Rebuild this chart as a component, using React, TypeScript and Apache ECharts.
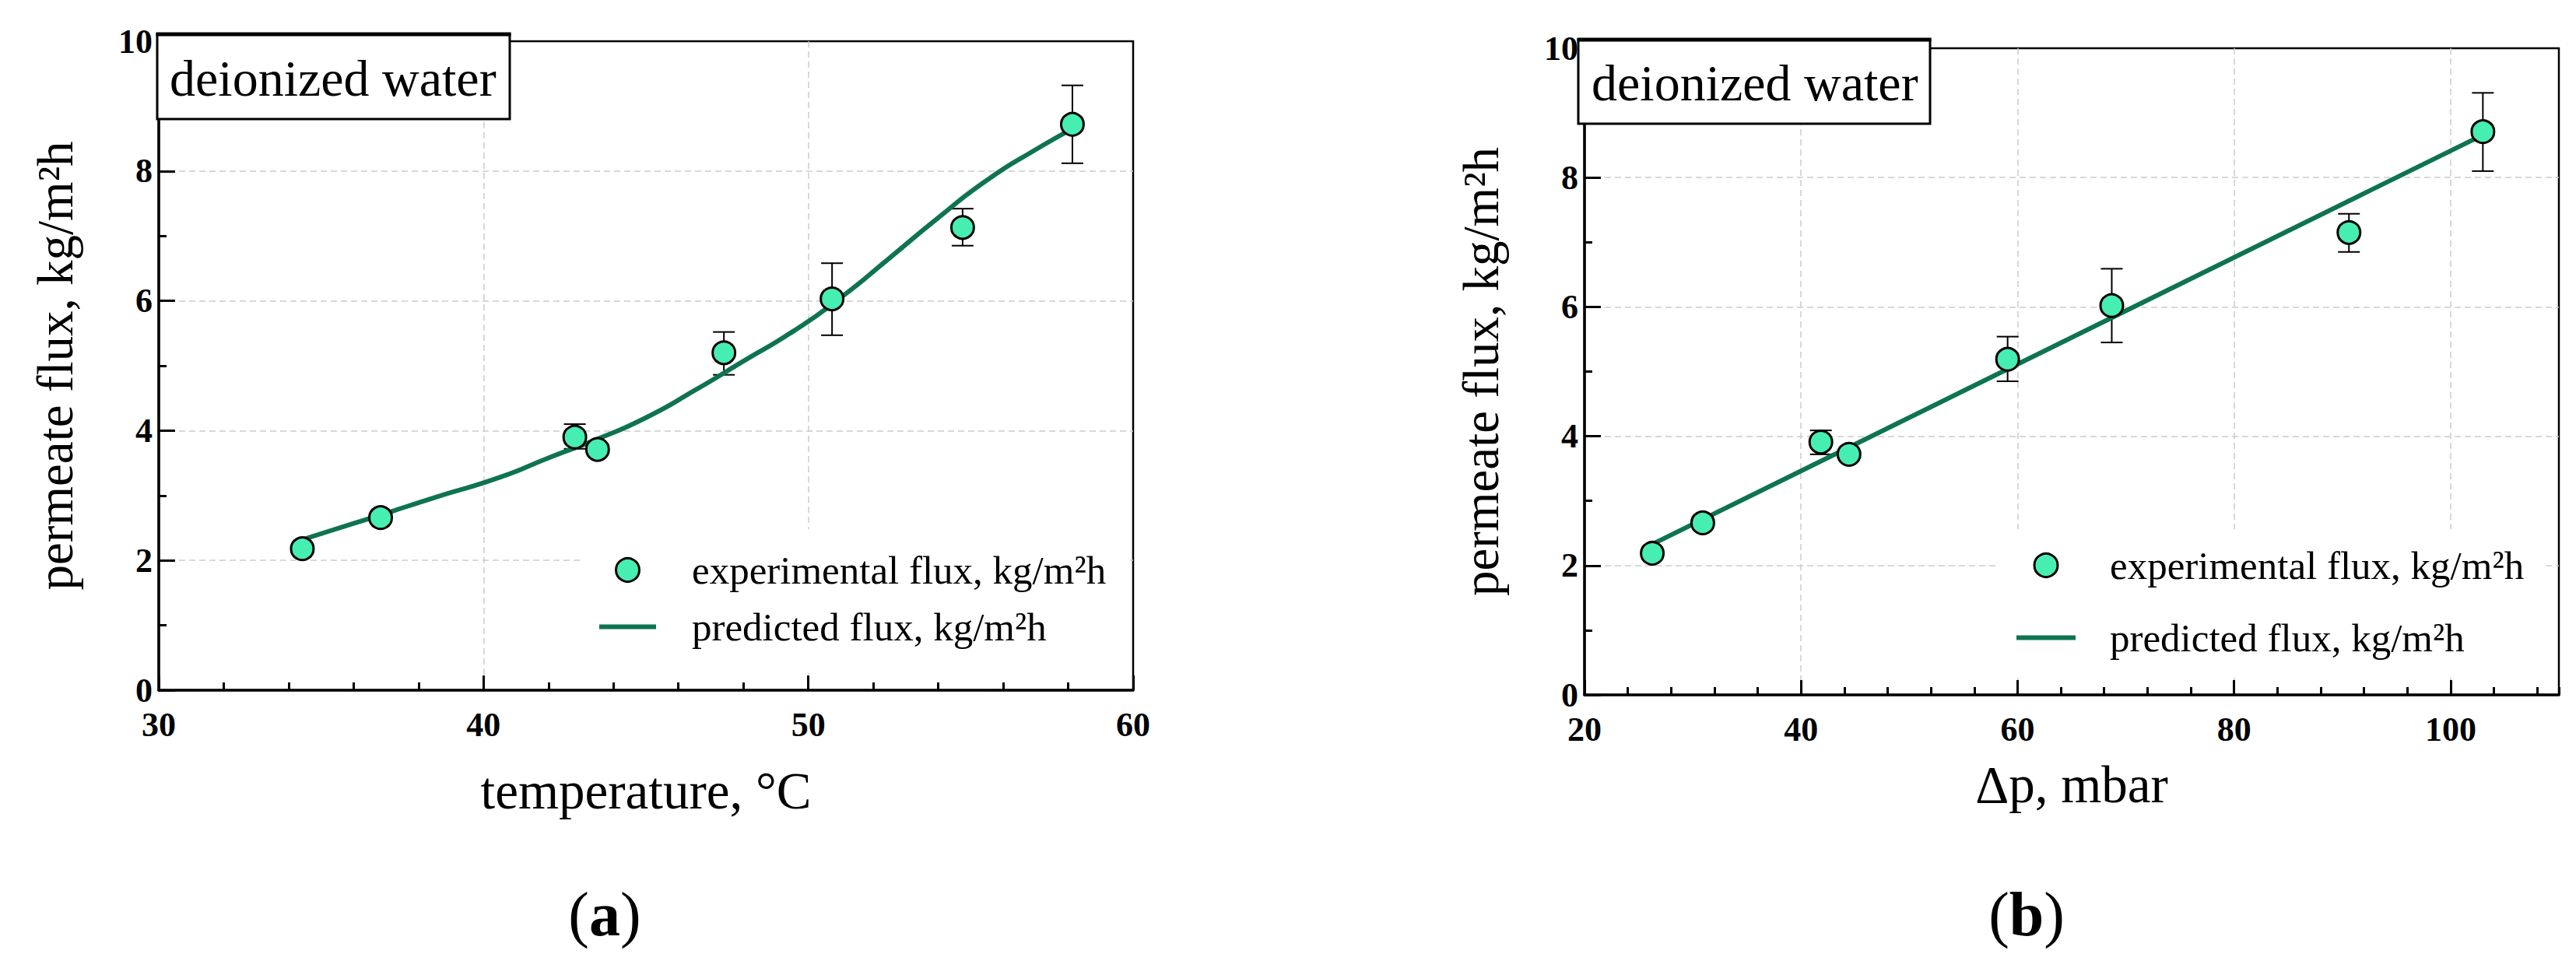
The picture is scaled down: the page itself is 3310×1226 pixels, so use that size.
import React, { useEffect, useRef } from "react";
import * as echarts from "echarts";

// ---------- data (a): temperature ----------
const tempC = [34.42, 36.83, 42.81, 43.51, 47.4, 50.73, 54.75, 58.13];
const fluxA = [2.18, 2.66, 3.9, 3.71, 5.2, 6.03, 7.13, 8.72];
const errLowA = [2.18, 2.66, 3.72, 3.71, 4.86, 5.47, 6.85, 8.12];
const errHighA = [2.18, 2.66, 4.1, 3.71, 5.52, 6.58, 7.42, 9.32];
const curveT = [34.42, 36.0, 36.83, 38.5, 40.5, 42.0, 43.5, 45.0, 46.5, 48.0, 49.5, 51.0, 52.5, 54.0, 55.5, 57.0, 58.13];
const curveA = [2.32, 2.57, 2.7, 2.97, 3.28, 3.58, 3.87, 4.2, 4.62, 5.07, 5.52, 6.05, 6.66, 7.28, 7.86, 8.33, 8.65];

// ---------- data (b): pressure difference ----------
const dpMbar = [26.26, 30.92, 41.83, 44.43, 59.08, 68.7, 90.61, 102.98];
const fluxB = [2.19, 2.66, 3.91, 3.72, 5.19, 6.02, 7.15, 8.71];
const errLowB = [2.19, 2.66, 3.72, 3.72, 4.85, 5.45, 6.85, 8.1];
const errHighB = [2.19, 2.66, 4.09, 3.72, 5.54, 6.59, 7.44, 9.31];
const lineDp = [26.26, 102.98];
const lineB = [2.33, 8.66];

// ---------- texts ----------
const EXP = "experimental flux, kg/m²h";
const PRED = "predicted flux, kg/m²h";
const Y_NAME = "permeate flux, kg/m²h";
const X_NAME_A = "temperature, °C";
const X_NAME_B = "Δp, mbar";
const BOX_TEXT = "deionized water";

const FONT = "'Liberation Serif', 'Times New Roman', serif";
const MINT = "#46EEB2";
const GREEN = "#0E7352";

const errorBarSeries = (xi: number, xs: number[], lo: number[], hi: number[]) => ({
  type: "custom",
  xAxisIndex: xi,
  yAxisIndex: xi,
  silent: true,
  z: 3,
  clip: false,
  data: xs.map((x, i) => [x, lo[i], hi[i]]),
  renderItem: (params: any, api: any) => {
    const x = api.value(0);
    const pLo = api.coord([x, api.value(1)]);
    const pHi = api.coord([x, api.value(2)]);
    const cap = 14;
    const style = { stroke: "#000", lineWidth: 2 };
    return {
      type: "group",
      children: [
        { type: "line", shape: { x1: pHi[0], y1: pHi[1], x2: pLo[0], y2: pLo[1] }, style },
        { type: "line", shape: { x1: pHi[0] - cap, y1: pHi[1], x2: pHi[0] + cap, y2: pHi[1] }, style },
        { type: "line", shape: { x1: pLo[0] - cap, y1: pLo[1], x2: pLo[0] + cap, y2: pLo[1] }, style },
      ],
    };
  },
});

const tickLabel = { fontFamily: FONT, fontWeight: "bold" as const, fontSize: 44, color: "#000" };
const splitLine = {
  show: true,
  showMinLine: false,
  showMaxLine: false,
  lineStyle: { color: "#cccccc", width: 1.5, type: [8, 5] },
};
const axisLine = { show: true, lineStyle: { color: "#000", width: 3.5 } };
const nameStyle = { fontFamily: FONT, fontSize: 67, color: "#000" };

const yAxisFor = (gi: number) => ({
  type: "value",
  gridIndex: gi,
  min: 0,
  max: 10,
  interval: 2,
  name: Y_NAME,
  nameLocation: "middle",
  nameGap: 101,
  nameTextStyle: { ...nameStyle, fontSize: 65 },
  axisLine,
  axisTick: { show: true, inside: true, length: 21, lineStyle: { color: "#000", width: 3 } },
  minorTick: { show: true, splitNumber: 2, length: 10, lineStyle: { color: "#000", width: 3 } },
  axisLabel: { ...tickLabel, margin: 8 },
  splitLine,
});

const legendFor = (
  left: number,
  top: number,
  padding: number[],
  itemWidth: number,
  itemGap: number,
  textPad: number
) => ({
  orient: "vertical",
  left,
  top,
  padding,
  itemWidth,
  itemHeight: 30,
  itemGap,
  selectedMode: false,
  backgroundColor: "#fff",
  textStyle: { fontFamily: FONT, fontSize: 51, color: "#000", padding: [0, 0, 0, textPad] },
  data: [
    { name: EXP, icon: "circle", itemStyle: { color: MINT, borderColor: "#000", borderWidth: 3 } },
    { name: PRED, icon: `path://M0,0L${itemWidth},0L${itemWidth},6L0,6Z`, itemStyle: { color: GREEN, borderWidth: 0 } },
  ],
});

const option: any = {
  animation: false,
  backgroundColor: "#fff",
  grid: [
    { left: 204, top: 53, width: 1252, height: 834, show: true, borderColor: "#000", borderWidth: 2.5 },
    { left: 2036, top: 62, width: 1252, height: 831, show: true, borderColor: "#000", borderWidth: 2.5 },
  ],
  xAxis: [
    {
      type: "value",
      gridIndex: 0,
      position: "bottom",
      min: 30,
      max: 60,
      interval: 10,
      name: X_NAME_A,
      nameLocation: "middle",
      nameGap: 95,
      nameTextStyle: nameStyle,
      axisLine,
      axisTick: { show: true, inside: true, length: 19, lineStyle: { color: "#000", width: 3 } },
      minorTick: { show: true, splitNumber: 5, length: 10, lineStyle: { color: "#000", width: 3 } },
      axisLabel: { ...tickLabel, margin: 22 },
      splitLine,
    },
    {
      type: "value",
      gridIndex: 1,
      position: "bottom",
      min: 20,
      max: 110,
      interval: 20,
      name: X_NAME_B,
      nameLocation: "middle",
      nameGap: 81,
      nameTextStyle: nameStyle,
      axisLine,
      axisTick: { show: true, inside: true, length: 19, lineStyle: { color: "#000", width: 3 } },
      axisLabel: { ...tickLabel, margin: 22, showMaxLabel: false },
      splitLine,
    },
    {
      type: "value",
      gridIndex: 1,
      position: "bottom",
      min: 20,
      max: 110,
      interval: 4,
      axisLine: { show: false },
      axisLabel: { show: false },
      splitLine: { show: false },
      axisTick: { show: true, inside: true, length: 10, lineStyle: { color: "#000", width: 3 } },
    },
  ],
  yAxis: [yAxisFor(0), yAxisFor(1)],
  legend: [
    legendFor(746, 680, [27, 28, 34, 24], 73, 22, 41),
    legendFor(2565, 680, [21, 28, 26, 26], 76, 42, 39),
  ],
  series: [
    errorBarSeries(0, tempC, errLowA, errHighA),
    {
      type: "line",
      name: PRED,
      xAxisIndex: 0,
      yAxisIndex: 0,
      data: curveT.map((x, i) => [x, curveA[i]]),
      smooth: 0.6,
      symbol: "none",
      itemStyle: { color: GREEN },
      lineStyle: { color: GREEN, width: 6 },
      z: 4,
    },
    {
      type: "scatter",
      name: EXP,
      xAxisIndex: 0,
      yAxisIndex: 0,
      data: tempC.map((x, i) => [x, fluxA[i]]),
      symbolSize: 29,
      itemStyle: { color: MINT, borderColor: "#000", borderWidth: 3, opacity: 1 },
      z: 5,
    },
    errorBarSeries(1, dpMbar, errLowB, errHighB),
    {
      type: "line",
      name: PRED,
      xAxisIndex: 1,
      yAxisIndex: 1,
      data: lineDp.map((x, i) => [x, lineB[i]]),
      symbol: "none",
      itemStyle: { color: GREEN },
      lineStyle: { color: GREEN, width: 6 },
      z: 4,
    },
    {
      type: "scatter",
      name: EXP,
      xAxisIndex: 1,
      yAxisIndex: 1,
      data: dpMbar.map((x, i) => [x, fluxB[i]]),
      symbolSize: 29,
      itemStyle: { color: MINT, borderColor: "#000", borderWidth: 3, opacity: 1 },
      z: 5,
    },
  ],
  graphic: [
    {
      type: "rect",
      z: 10,
      shape: { x: 202, y: 44, width: 453, height: 109 },
      style: { fill: "#fff", stroke: "#000", lineWidth: 3 },
    },
    {
      type: "line",
      z: 11,
      shape: { x1: 200.5, y1: 44, x2: 656.5, y2: 44 },
      style: { stroke: "#000", lineWidth: 5 },
    },
    {
      type: "text",
      z: 11,
      x: 218,
      y: 100,
      style: { text: BOX_TEXT, fontFamily: FONT, fontSize: 66, fill: "#000", verticalAlign: "middle", align: "left" },
    },
    {
      type: "rect",
      z: 10,
      shape: { x: 2028, y: 51, width: 452, height: 108 },
      style: { fill: "#fff", stroke: "#000", lineWidth: 3 },
    },
    {
      type: "line",
      z: 11,
      shape: { x1: 2026.5, y1: 51, x2: 2481.5, y2: 51 },
      style: { stroke: "#000", lineWidth: 5 },
    },
    {
      type: "text",
      z: 11,
      x: 2045,
      y: 106,
      style: { text: BOX_TEXT, fontFamily: FONT, fontSize: 66, fill: "#000", verticalAlign: "middle", align: "left" },
    },
    {
      type: "text",
      z: 11,
      x: 777,
      y: 1175,
      style: {
        text: "({b|a})",
        fontFamily: FONT,
        fontSize: 80,
        fill: "#000",
        align: "center",
        verticalAlign: "middle",
        rich: { b: { fontFamily: FONT, fontSize: 80, fontWeight: "bold", fill: "#000" } },
      },
    },
    {
      type: "text",
      z: 11,
      x: 2604,
      y: 1175,
      style: {
        text: "({b|b})",
        fontFamily: FONT,
        fontSize: 80,
        fill: "#000",
        align: "center",
        verticalAlign: "middle",
        rich: { b: { fontFamily: FONT, fontSize: 80, fontWeight: "bold", fill: "#000" } },
      },
    },
  ],
};

export default function App() {
  const ref = useRef<HTMLDivElement>(null);
  useEffect(() => {
    document.body.style.margin = "0";
    const chart = echarts.init(ref.current as HTMLDivElement, null, { renderer: "svg" });
    chart.setOption(option);
    return () => chart.dispose();
  }, []);
  return (
    <div
      ref={ref}
      style={{ position: "absolute", left: 0, top: 0, width: 3310, height: 1226, background: "#fff" }}
    />
  );
}
